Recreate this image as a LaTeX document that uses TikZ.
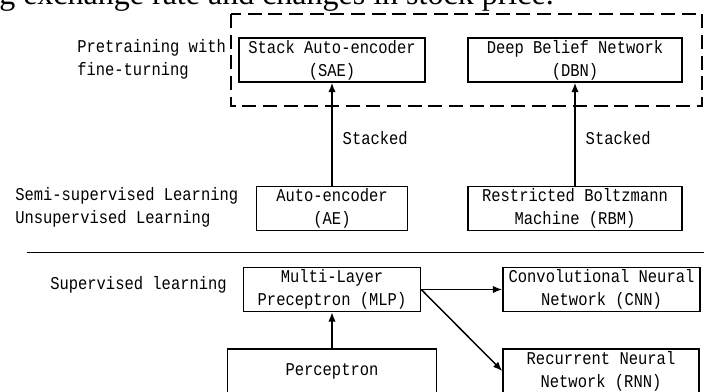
\documentclass[tikz,border=0pt]{standalone}
\usepackage{fontspec}
\setmainfont{Liberation Serif}
\newfontfamily\netfont[FakeStretch=0.86]{Liberation Mono}
\usetikzlibrary{arrows.meta}
\tikzset{
  netbox/.style={draw,line width=1.1pt,minimum height=33pt,inner sep=0pt,
    align=center,font=\netfont\fontsize{13.5}{17.25}\selectfont},
  boxw/.style={minimum width=#1*0.75pt},
  sidetext/.style={anchor=west,inner sep=0pt,align=left,
    font=\netfont\fontsize{13.5}{17.25}\selectfont},
  link/.style={line width=1.1pt,-{Latex[length=7pt,width=5.5pt]}},
  stacklabel/.style={anchor=west,inner sep=0pt,xshift=7.5pt,
    font=\netfont\fontsize{13.5}{17.25}\selectfont}
}
\begin{document}
\begin{tikzpicture}[x=0.75pt,y=-0.75pt]
    \clip (0,0) rectangle (704,392);
    \node [anchor=base west,inner sep=0pt,font=\fontsize{24}{28}\selectfont]
      (caption) at (-1,5) {g exchange rate and changes in stock price.};
    \draw [line width=1.1pt,dash pattern=on 10.5pt off 5pt] (231,14) rectangle (702,106);
    \node [netbox,boxw=186] (sae) at (332,60) {Stack Auto-encoder\\(SAE)};
    \node [netbox,boxw=214] (dbn) at (575,60) {Deep Belief Network\\(DBN)};
    \node [netbox,boxw=151] (ae) at (332,208.5) {Auto-encoder\\(AE)};
    \node [netbox,boxw=214] (rbm) at (575,208.5) {Restricted Boltzmann\\Machine (RBM)};
    \node [netbox,boxw=177] (mlp) at (332,289.5) {Multi-Layer\\Preceptron (MLP)};
    \node [netbox,boxw=197] (cnn) at (601.5,289.5) {Convolutional Neural\\Network (CNN)};
    \node [netbox,boxw=209] (perc) at (332,371) {Perceptron};
    \node [netbox,boxw=196] (rnn) at (601,371) {Recurrent Neural\\Network (RNN)};
    \node [sidetext] (pretrain) at (77,59.5) {Pretraining with\\fine-turning};
    \node [sidetext] (unsup) at (15,207) {Semi-supervised Learning\\Unsupervised Learning};
    \node [sidetext] (sup) at (50,285) {Supervised learning};
    \draw [line width=1.1pt] (27,252.5) -- (704,252.5);
    \draw [link] (ae) -- node [pos=0.46,stacklabel] {Stacked} (sae);
    \draw [link] (rbm) -- node [pos=0.46,stacklabel] {Stacked} (dbn);
    \draw [link] (perc) -- (mlp);
    \draw [link] (mlp.east) -- (cnn);
    \draw [link] (mlp.east) -- (rnn.west);
  \end{tikzpicture}
\end{document}
